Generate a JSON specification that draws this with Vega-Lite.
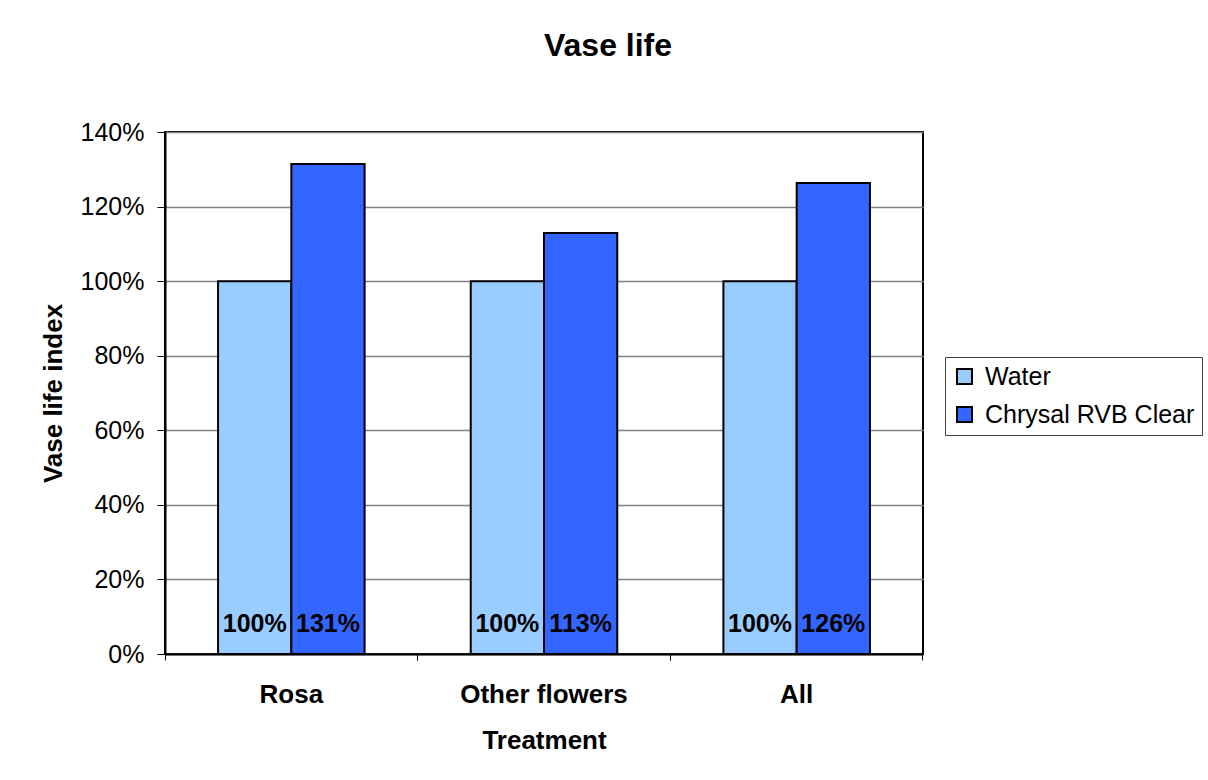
{
  "$schema": "https://vega.github.io/schema/vega-lite/v6.json",
  "width": 758,
  "height": 522,
  "autosize": {"type": "none"},
  "padding": {"left": 165, "top": 132, "right": 285, "bottom": 126},
  "background": "white",
  "config": {
    "font": "Liberation Sans",
    "view": {"stroke": "black", "strokeWidth": 2}
  },
  "title": {
    "text": "Vase life",
    "fontSize": 32,
    "fontWeight": "bold",
    "color": "black",
    "anchor": "middle",
    "frame": "group",
    "dx": 64,
    "baseline": "alphabetic",
    "offset": 32
  },
  "data": {
    "values": [
      {"Treatment": "Rosa", "Series": "Water", "value": 1.0},
      {"Treatment": "Rosa", "Series": "Chrysal RVB Clear", "value": 1.314},
      {"Treatment": "Other flowers", "Series": "Water", "value": 1.0},
      {"Treatment": "Other flowers", "Series": "Chrysal RVB Clear", "value": 1.129},
      {"Treatment": "All", "Series": "Water", "value": 1.0},
      {"Treatment": "All", "Series": "Chrysal RVB Clear", "value": 1.263}
    ]
  },
  "encoding": {
    "x": {
      "field": "Treatment",
      "type": "nominal",
      "sort": ["Rosa", "Other flowers", "All"],
      "scale": {"paddingInner": 0.42, "paddingOuter": 0.21}
    },
    "xOffset": {
      "field": "Series",
      "type": "nominal",
      "sort": ["Water", "Chrysal RVB Clear"],
      "scale": {"paddingInner": 0, "paddingOuter": 0}
    }
  },
  "layer": [
    {
      "mark": {"type": "bar", "stroke": "black", "strokeWidth": 2},
      "encoding": {
        "x": {
          "field": "Treatment",
          "type": "nominal",
          "sort": ["Rosa", "Other flowers", "All"],
          "axis": {
            "orient": "bottom",
            "title": "Treatment",
            "titleFontSize": 26,
            "titleFontWeight": "bold",
            "titleColor": "black",
            "titleBaseline": "alphabetic",
            "titleY": 94,
            "labelAngle": 0,
            "labelFontSize": 26,
            "labelFontWeight": "bold",
            "labelColor": "black",
            "labelBaseline": "alphabetic",
            "labelPadding": 48,
            "ticks": false,
            "domainColor": "black",
            "domainWidth": 2,
            "labelLimit": 400
          }
        },
        "y": {
          "field": "value",
          "type": "quantitative",
          "scale": {"domain": [0, 1.4], "nice": false},
          "axis": {
            "title": "Vase life index",
            "titleFontSize": 26,
            "titleFontWeight": "bold",
            "titleColor": "black",
            "titleBaseline": "alphabetic",
            "titleX": -104,
            "titleY": 261,
            "titleAngle": -90,
            "titleAlign": "center",
            "values": [0, 0.2, 0.4, 0.6, 0.8, 1.0, 1.2, 1.4],
            "format": ".0%",
            "labelFontSize": 25,
            "labelColor": "black",
            "labelPadding": 13,
            "tickSize": 8,
            "tickColor": "black",
            "tickWidth": 1,
            "domainColor": "black",
            "domainWidth": 2,
            "gridColor": "#808080",
            "gridWidth": 1.5
          }
        },
        "fill": {
          "field": "Series",
          "type": "nominal",
          "sort": ["Water", "Chrysal RVB Clear"],
          "scale": {"domain": ["Water", "Chrysal RVB Clear"], "range": ["#99CCFF", "#3366FF"]},
          "legend": {
            "title": null,
            "orient": "none",
            "legendX": 780,
            "legendY": 225,
            "symbolType": "square",
            "symbolSize": 225,
            "symbolStrokeColor": "black",
            "symbolStrokeWidth": 2,
            "labelFontSize": 25,
            "labelColor": "black",
            "labelOffset": 8,
            "labelLimit": 400,
            "rowPadding": 12,
            "padding": 7,
            "strokeColor": "#404040",
            "fillColor": "white"
          }
        }
      }
    },
    {
      "mark": {"type": "text", "fontSize": 25, "fontWeight": "bold", "color": "black", "baseline": "alphabetic", "dy": -22},
      "encoding": {
        "x": {
          "field": "Treatment",
          "type": "nominal",
          "sort": ["Rosa", "Other flowers", "All"],
          "axis": {
            "orient": "bottom",
            "title": null,
            "labels": false,
            "domain": false,
            "grid": false,
            "ticks": true,
            "tickSize": 6,
            "tickColor": "black",
            "tickWidth": 1,
            "bandPosition": -0.362
          }
        },
        "y": {"datum": 0, "type": "quantitative"},
        "text": {"field": "value", "type": "quantitative", "format": ".0%"}
      }
    },
    {
      "mark": {"type": "text", "fontSize": 25, "opacity": 0, "baseline": "alphabetic", "dy": -22},
      "encoding": {
        "x": {
          "field": "Treatment",
          "type": "nominal",
          "sort": ["Rosa", "Other flowers", "All"],
          "axis": {
            "orient": "bottom",
            "title": null,
            "labels": false,
            "domain": false,
            "grid": false,
            "ticks": true,
            "tickSize": 6,
            "tickColor": "black",
            "tickWidth": 1,
            "bandPosition": 1.362
          }
        },
        "y": {"datum": 0, "type": "quantitative"},
        "text": {"field": "value", "type": "quantitative", "format": ".0%"}
      }
    }
  ],
  "resolve": {"axis": {"x": "independent"}}
}
